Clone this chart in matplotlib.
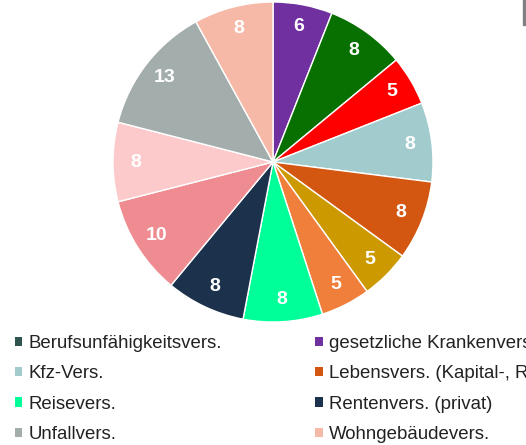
import matplotlib
matplotlib.use("Agg")
import matplotlib.pyplot as plt
from matplotlib.patches import Patch, Rectangle

plt.rcParams["font.family"] = ["Liberation Sans", "DejaVu Sans"]

# slices, clockwise from 12 o'clock
slice_labels = [
    "gesetzliche Krankenvers.", "Haftpflichtvers.", "Hausratvers.",
    "Kfz-Vers.", "Lebensvers. (Kapital-, Risiko-)", "Pflegevers.",
    "private Krankenvers.", "Reisevers.", "Rentenvers. (privat)",
    "Rechtsschutzvers.", "Tierkrankenvers.", "Unfallvers.",
    "Wohngebäudevers.",
]
slice_values = [6, 8, 5, 8, 8, 5, 5, 8, 8, 10, 8, 13, 8]
slice_colors = [
    "#7030a0", "#077000", "#ff0000", "#a2cbcd", "#d35710", "#cc9900",
    "#f07f3c", "#00ff99", "#1c314c", "#ee8c92", "#fdcacc", "#a3adac",
    "#f6b9a7",
]

# legend order (alphabetical, read row by row, 4 columns, right half cut off)
legend_labels = [
    "Berufsunfähigkeitsvers.", "gesetzliche Krankenvers.", "Haftpflichtvers.", "Hausratvers.",
    "Kfz-Vers.", "Lebensvers. (Kapital-, Risiko-)", "Pflegevers.", "private Krankenvers.",
    "Reisevers.", "Rentenvers. (privat)", "Rechtsschutzvers.", "Tierkrankenvers.",
    "Unfallvers.", "Wohngebäudevers.",
]
color_of = dict(zip(slice_labels, slice_colors))
color_of["Berufsunfähigkeitsvers."] = "#2f5450"


def main():
    fig = plt.figure(figsize=(5.26, 4.45), dpi=100)
    W, H = 526, 445
    cx, cy, r = 273, 162, 160
    ax = fig.add_axes([(cx - r) / W, 1 - (cy + r) / H, 2 * r / W, 2 * r / H])

    ax.pie(
        slice_values,
        colors=slice_colors,
        startangle=90,
        counterclock=False,
        labels=[str(v) for v in slice_values],
        labeldistance=0.86,
        radius=1.0,
        wedgeprops=dict(edgecolor="white", linewidth=1),
        textprops=dict(color="white", fontsize=14, fontweight="bold",
                       ha="center", va="center"),
    )
    for t in ax.texts:
        t.set_horizontalalignment("center")
    ax.set_xlim(-1, 1)
    ax.set_ylim(-1, 1)
    ax.set_aspect("auto")
    ax.axis("off")

    # matplotlib fills legend columns first; reorder so it reads row by row
    ncol = 4
    order = []
    for c in range(ncol):
        order += list(range(c, len(legend_labels), ncol))
    handles = [Patch(facecolor=color_of[legend_labels[i]], edgecolor="none") for i in order]
    labels = [legend_labels[i] for i in order]
    fig.legend(
        handles, labels, ncol=ncol,
        loc="upper left", bbox_to_anchor=(15 / W, 1 - 335 / H),
        frameon=False, fontsize=13.4, labelcolor="#222222",
        handlelength=0.4, handleheight=0.4, handletextpad=0.35,
        columnspacing=5.0, labelspacing=0.72, borderaxespad=0, borderpad=0,
    )

    # scrollbar sliver at the top right edge
    fig.patches.append(Rectangle((523 / W, 1 - 25 / H), 3 / W, 25 / H,
                                 transform=fig.transFigure, color="#808080"))

    fig.savefig("out.png", dpi=100)
    plt.close(fig)


if __name__ == "__main__":
    main()
